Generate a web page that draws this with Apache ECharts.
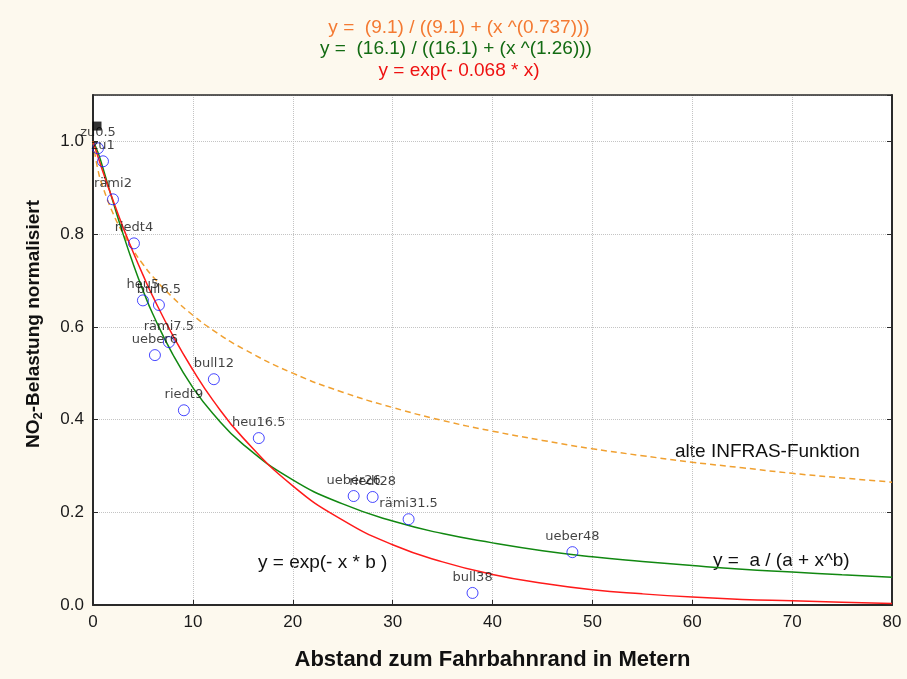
<!DOCTYPE html>
<html>
<head>
<meta charset="utf-8">
<script src="https://cdn.jsdelivr.net/npm/echarts@6/dist/echarts.min.js"></script>
<style>
html,body{margin:0;padding:0;background:#fdf9ee;}
#c{width:907px;height:679px;}
</style>
</head>
<body>
<div id="c"></div>
<script>
// measured points
var pointNames = ['zu0.5','zu1','rämi2','riedt4','heu5','bull6.5','rämi7.5','ueber6','bull12','riedt9','heu16.5','ueber26','riedt28','rämi31.5','bull38','ueber48'];
var pointX = [0.5, 1.0, 2.0, 4.1, 5.0, 6.6, 7.6, 6.2, 12.1, 9.1, 16.6, 26.1, 28.0, 31.6, 38.0, 48.0];
var pointY = [0.985, 0.957, 0.875, 0.780, 0.657, 0.647, 0.567, 0.539, 0.487, 0.420, 0.360, 0.235, 0.233, 0.185, 0.026, 0.114];

// curve readings (x samples)
var curveX = [0, 0.5, 1, 2, 3, 4, 5, 6, 8, 10, 12, 15, 20, 25, 30, 35, 40, 45, 50, 55, 60, 65, 70, 75, 80];
var expY    = [1.0, 0.967, 0.934, 0.873, 0.815, 0.762, 0.712, 0.665, 0.581, 0.507, 0.442, 0.361, 0.257, 0.183, 0.130, 0.093, 0.066, 0.047, 0.033, 0.024, 0.017, 0.012, 0.009, 0.006, 0.003];
var powerY  = [1.0, 0.976, 0.942, 0.870, 0.801, 0.737, 0.679, 0.627, 0.540, 0.469, 0.413, 0.347, 0.270, 0.218, 0.181, 0.154, 0.134, 0.117, 0.104, 0.094, 0.085, 0.077, 0.071, 0.065, 0.060];
var infrasY = [1.0, 0.938, 0.901, 0.845, 0.802, 0.766, 0.735, 0.708, 0.663, 0.625, 0.593, 0.553, 0.500, 0.459, 0.426, 0.398, 0.375, 0.355, 0.337, 0.322, 0.308, 0.296, 0.284, 0.274, 0.265];

var xTicks = [0, 10, 20, 30, 40, 50, 60, 70, 80];
var yTicks = [0.0, 0.2, 0.4, 0.6, 0.8, 1.0];

function pairs(xs, ys){ return xs.map(function(x,i){ return [x, ys[i]]; }); }
var pts = pointX.map(function(x,i){ return {name: pointNames[i], value:[x, pointY[i]]}; });

var FONT = 'Liberation Sans, Arial, sans-serif';
var chart = echarts.init(document.getElementById('c'), null, {renderer:'canvas'});
chart.setOption({
  backgroundColor: '#fdf9ee',
  animation: false,
  grid: {left: 93, right: 15, top: 95, bottom: 74, show: true, backgroundColor: '#ffffff', borderWidth: 0},
  xAxis: [{
    type: 'value', min: 0, max: 80, interval: 10,
    axisLine: {show: true, onZero: false, lineStyle: {color: '#2a2a2a', width: 2}},
    axisTick: {show: true, inside: true, length: 5, lineStyle: {color: '#2a2a2a'}},
    axisLabel: {color: '#1a1a1a', fontSize: 17, fontFamily: FONT, margin: 9},
    splitLine: {show: true, lineStyle: {color: '#c4c4c4', type: 'dotted', width: 1}},
    name: 'Abstand zum Fahrbahnrand in Metern', nameLocation: 'middle', nameGap: 44,
    nameTextStyle: {fontSize: 22, fontWeight: 'bold', color: '#111', fontFamily: FONT}
  }, {
    type: 'value', position: 'top', min: 0, max: 80, interval: 10,
    axisLine: {show: true, onZero: false, lineStyle: {color: '#2a2a2a', width: 1.5}},
    axisTick: {show: false}, axisLabel: {show: false}, splitLine: {show: false}
  }],
  yAxis: [{
    type: 'value', min: 0, max: 1.1, interval: 0.2,
    axisLine: {show: true, onZero: false, lineStyle: {color: '#2a2a2a', width: 2}},
    axisTick: {show: true, inside: true, length: 5, lineStyle: {color: '#2a2a2a'}},
    axisLabel: {color: '#1a1a1a', fontSize: 17, fontFamily: FONT, margin: 9, showMaxLabel: false,
      formatter: function(v){ return yTicks.indexOf(Math.round(v*10)/10) >= 0 ? v.toFixed(1) : ''; }},
    splitLine: {show: true, lineStyle: {color: '#c4c4c4', type: 'dotted', width: 1}}
  }, {
    type: 'value', position: 'right', min: 0, max: 1.1, interval: 0.2,
    axisLine: {show: true, onZero: false, lineStyle: {color: '#2a2a2a', width: 2}},
    axisTick: {show: true, inside: true, length: 5, lineStyle: {color: '#2a2a2a'}},
    axisLabel: {show: false}, splitLine: {show: false}
  }],
  series: [{
    type: 'line', name: 'infras', data: pairs(curveX, infrasY), smooth: true, showSymbol: false,
    lineStyle: {color: '#f0a030', width: 1.5, type: [6, 4]}, z: 2
  }, {
    type: 'line', name: 'power', data: pairs(curveX, powerY), smooth: true, showSymbol: false,
    lineStyle: {color: '#118811', width: 1.5}, z: 3
  }, {
    type: 'line', name: 'exp', data: pairs(curveX, expY), smooth: true, showSymbol: false,
    lineStyle: {color: '#ff1a1a', width: 1.5}, z: 4
  }, {
    type: 'scatter', name: 'pts', data: pts, symbol: 'circle', symbolSize: 11,
    itemStyle: {color: 'rgba(255,255,255,0)', borderColor: '#1a1aff', borderWidth: 1},
    label: {show: true, position: 'top', distance: 3, formatter: '{b}', fontSize: 13, color: '#111', fontFamily: 'DejaVu Sans, sans-serif'},
    z: 5
  }, {
    type: 'scatter', name: 'marker', data: [[0.4, 1.033]], symbol: 'rect', symbolSize: [9, 9],
    itemStyle: {color: '#000'}, z: 6
  }],
  graphic: [
    {type: 'text', x: 459, y: 28, style: {text: 'y =  (9.1) / ((9.1) + (x ^(0.737)))', fill: '#f47a32', fontSize: 19, fontFamily: FONT, align: 'center', verticalAlign: 'middle'}},
    {type: 'text', x: 456, y: 49, style: {text: 'y =  (16.1) / ((16.1) + (x ^(1.26)))', fill: '#136b13', fontSize: 19, fontFamily: FONT, align: 'center', verticalAlign: 'middle'}},
    {type: 'text', x: 459, y: 71, style: {text: 'y = exp(- 0.068 * x)', fill: '#ee1111', fontSize: 19, fontFamily: FONT, align: 'center', verticalAlign: 'middle'}},
    {type: 'text', x: 675, y: 452, style: {text: 'alte INFRAS-Funktion', fill: '#111', fontSize: 19, fontFamily: FONT, verticalAlign: 'middle'}},
    {type: 'text', x: 713, y: 561, style: {text: 'y =  a / (a + x^b)', fill: '#111', fontSize: 19, fontFamily: FONT, verticalAlign: 'middle'}},
    {type: 'text', x: 258, y: 563, style: {text: 'y = exp(- x * b )', fill: '#111', fontSize: 19, fontFamily: FONT, verticalAlign: 'middle'}},
    {type: 'text', x: 34, y: 324, rotation: Math.PI / 2, style: {
      text: '{n|NO}{s|2}{n|-Belastung normalisiert}', align: 'center', verticalAlign: 'middle',
      rich: {
        n: {fontSize: 19, fontWeight: 'bold', fill: '#111', fontFamily: FONT},
        s: {fontSize: 13, fontWeight: 'bold', fill: '#111', fontFamily: FONT, verticalAlign: 'bottom', padding: [9,0,0,0]}
      }
    }}
  ]
});
</script>
</body>
</html>
